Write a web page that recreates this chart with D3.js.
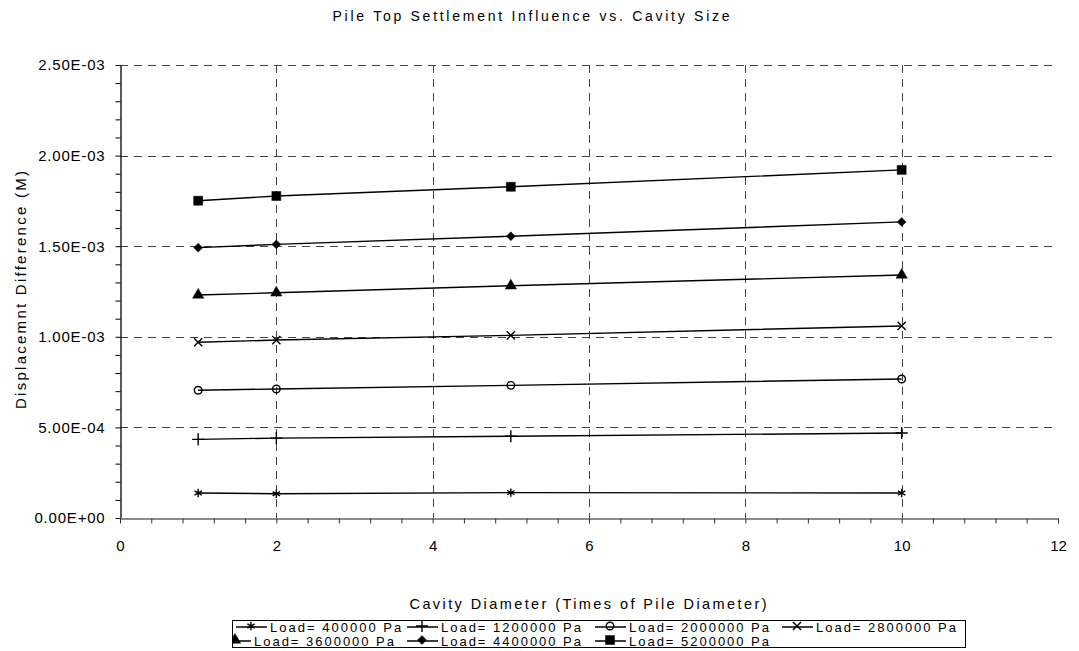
<!DOCTYPE html>
<html>
<head>
<meta charset="utf-8">
<script src="https://cdn.jsdelivr.net/npm/d3@7"></script>
<style>
  body { margin: 0; background: #fff; }
  text { font-family: "Liberation Sans", Arial, sans-serif; fill: #000; }
</style>
</head>
<body>
<svg id="chart" width="1079" height="651"></svg>
<script>
// Cavity diameter, in multiples of the pile diameter
const cavityDiameters = [1, 2, 5, 10];

// Pile-top displacement difference (m) for each applied load
const load400000  = [1.38e-4, 1.34e-4, 1.40e-4, 1.38e-4];
const load1200000 = [4.34e-4, 4.41e-4, 4.51e-4, 4.69e-4];
const load2000000 = [7.05e-4, 7.12e-4, 7.32e-4, 7.67e-4];
const load2800000 = [9.70e-4, 9.82e-4, 1.008e-3, 1.060e-3];
const load3600000 = [1.231e-3, 1.243e-3, 1.282e-3, 1.341e-3];
const load4400000 = [1.492e-3, 1.510e-3, 1.555e-3, 1.634e-3];
const load5200000 = [1.751e-3, 1.777e-3, 1.828e-3, 1.921e-3];

const seriesNames = [
  "Load= 400000 Pa", "Load= 1200000 Pa", "Load= 2000000 Pa", "Load= 2800000 Pa",
  "Load= 3600000 Pa", "Load= 4400000 Pa", "Load= 5200000 Pa"
];
const seriesValues = [load400000, load1200000, load2000000, load2800000,
                      load3600000, load4400000, load5200000];
const seriesMarkers = ["asterisk", "plus", "circle", "x", "triangle", "diamond", "square"];

const xTicks = [0, 2, 4, 6, 8, 10, 12];
const yTicks = [0, 5e-4, 1e-3, 1.5e-3, 2e-3, 2.5e-3];

const chartTitle = "Pile Top Settlement Influence vs. Cavity Size";
const xTitle = "Cavity Diameter (Times of Pile Diameter)";
const yTitle = "Displacemnt Difference (M)";

// ---- layout ----
const svg = d3.select("#chart");
svg.append("rect").attr("width", 1079).attr("height", 651).attr("fill", "#fff");

const plot = { left: 120, right: 1058, top: 65, bottom: 518 };

const x = d3.scaleLinear().domain([0, 12]).range([plot.left, plot.right]);
const y = d3.scaleLinear().domain([0, 2.5e-3]).range([plot.bottom, plot.top]);

const fmtY = v => {
  const [m, e] = v.toExponential(2).split("e");
  const sign = e[0] === "-" ? "-" : "+";
  const digits = e.replace(/[+-]/, "").padStart(2, "0");
  return `${m}E${sign}${digits}`;
};

// ---- gridlines ----
const grid = svg.append("g").attr("stroke", "#444").attr("stroke-width", 1)
  .attr("stroke-dasharray", "8,6").attr("fill", "none");
grid.selectAll("line.h").data(yTicks.filter(d => d > 0)).join("line")
  .attr("x1", plot.left).attr("x2", plot.right)
  .attr("y1", d => Math.round(y(d)) + 0.5).attr("y2", d => Math.round(y(d)) + 0.5);
grid.selectAll("line.v").data(xTicks.filter(d => d > 0 && d < 12)).join("line")
  .attr("y1", plot.top).attr("y2", plot.bottom)
  .attr("x1", d => Math.round(x(d)) + 0.5).attr("x2", d => Math.round(x(d)) + 0.5);

// ---- axes ----
const yAxis = d3.axisLeft(y).tickValues(d3.range(0, 26).map(i => i * 1e-4))
  .tickFormat(d => yTicks.some(t => Math.abs(t - d) < 1e-9) ? fmtY(d) : "")
  .tickSizeInner(5).tickSizeOuter(0).tickPadding(10);
const gy = svg.append("g").attr("transform", `translate(${plot.left + 0.5},0)`).call(yAxis);
gy.select(".domain").attr("stroke", "#000").attr("stroke-width", 1.3);
gy.selectAll(".tick line").attr("stroke", "#000");
gy.selectAll(".tick text").attr("font-size", 15).attr("letter-spacing", 0.8)
  .style("font-family", '"Liberation Sans", Arial, sans-serif').attr("fill", "#000");

const xAxis = d3.axisBottom(x).tickValues(d3.range(0, 31).map(i => i * 0.4))
  .tickFormat(d => xTicks.some(t => Math.abs(t - d) < 1e-9) ? d3.format("d")(d) : "")
  .tickSizeInner(5).tickSizeOuter(0).tickPadding(17);
const gx = svg.append("g").attr("transform", `translate(0,${plot.bottom + 0.5})`).call(xAxis);
gx.select(".domain").attr("stroke", "#666").attr("stroke-width", 1.5);
gx.selectAll(".tick line").attr("stroke", "#333");
gx.selectAll(".tick text").attr("font-size", 15)
  .style("font-family", '"Liberation Sans", Arial, sans-serif').attr("fill", "#000");

// ---- titles ----
svg.append("text").attr("x", 531).attr("y", 21).attr("text-anchor", "middle")
  .attr("font-size", 14).attr("textLength", 397).attr("lengthAdjust", "spacing")
  .text(chartTitle);
svg.append("text").attr("x", 588).attr("y", 609).attr("text-anchor", "middle")
  .attr("font-size", 14.5).attr("textLength", 357).attr("lengthAdjust", "spacing")
  .text(xTitle);
svg.append("text").attr("transform", "translate(26,290) rotate(-90)").attr("text-anchor", "middle")
  .attr("font-size", 15).attr("textLength", 238).attr("lengthAdjust", "spacing")
  .text(yTitle);

// ---- markers ----
const symbolTypes = {
  asterisk: { type: d3.symbolAsterisk, size: 50, fill: false },
  plus:     { type: d3.symbolPlus,     size: 50, fill: false },
  circle:   { type: d3.symbolCircle,   size: 45, fill: false },
  x:        { type: d3.symbolX,        size: 45, fill: false },
  triangle: { type: d3.symbolTriangle, size: 55, fill: true },
  diamond:  { type: d3.symbolDiamond2, size: 50, fill: true },
  square:   { type: d3.symbolSquare,   size: 81, fill: true }
};
function drawMarker(g, kind, cx, cy) {
  const s = symbolTypes[kind];
  g.append("path")
    .attr("d", d3.symbol().type(s.type).size(s.size)())
    .attr("transform", `translate(${cx},${cy})`)
    .attr("fill", s.fill ? "#000" : "none")
    .attr("stroke", "#000").attr("stroke-width", s.fill ? 0.5 : 1.4);
}

// ---- series ----
const line = d3.line().x((d, i) => x(cavityDiameters[i])).y(d => y(d));
const seriesG = svg.append("g");
seriesValues.forEach((vals, k) => {
  seriesG.append("path").datum(vals).attr("d", line)
    .attr("fill", "none").attr("stroke", "#000").attr("stroke-width", 1.4);
  const mg = seriesG.append("g");
  vals.forEach((v, i) => drawMarker(mg, seriesMarkers[k], x(cavityDiameters[i]), y(v)));
});

// ---- legend ----
const legendBox = { x: 232.5, y: 620.5, w: 733, h: 27 };
const legend = svg.append("g");
legend.append("rect").attr("x", legendBox.x).attr("y", legendBox.y)
  .attr("width", legendBox.w).attr("height", legendBox.h)
  .attr("fill", "#fff").attr("stroke", "#000").attr("stroke-width", 1);
const legendClip = svg.append("clipPath").attr("id", "legclip");
legendClip.append("rect").attr("x", legendBox.x).attr("y", legendBox.y - 2)
  .attr("width", legendBox.w).attr("height", legendBox.h + 4);

// key start positions per row (row 2 keys start slightly clipped at the box edge)
const legendRows = [
  { y: 627, keys: [236, 407, 595, 782] },
  { y: 641, keys: [220, 407, 595] }
];
const legItems = legend.append("g").attr("clip-path", "url(#legclip)");
seriesNames.forEach((name, k) => {
  const row = k < 4 ? 0 : 1;
  const col = k < 4 ? k : k - 4;
  const kx = legendRows[row].keys[col];
  const ky = legendRows[row].y;
  legItems.append("line").attr("x1", kx).attr("x2", kx + 31).attr("y1", ky).attr("y2", ky)
    .attr("stroke", "#000").attr("stroke-width", 1.3);
  drawMarker(legItems, seriesMarkers[k], kx + 15, ky - 1);
  legItems.append("text").attr("x", kx + 34).attr("y", ky + 5)
    .attr("font-size", 13).attr("textLength", name.length * 8.75).attr("lengthAdjust", "spacing")
    .text(name);
});
</script>
</body>
</html>
